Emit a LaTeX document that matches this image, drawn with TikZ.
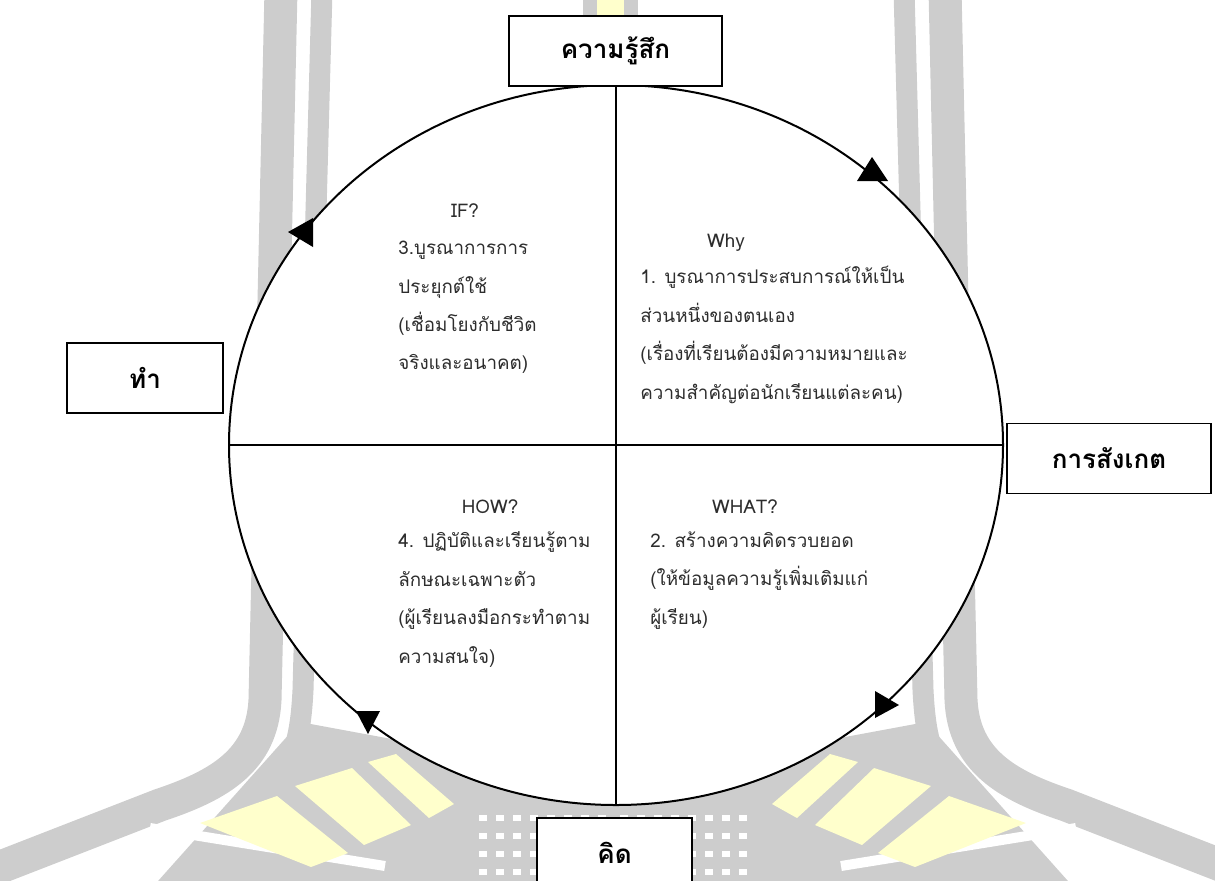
\documentclass[tikz,border=0pt]{standalone}
\usepackage{fontspec}
\setmainfont[Script=Thai]{Loma}
\usetikzlibrary{shapes.geometric, positioning, calc}

\definecolor{wmgray}{RGB}{205, 205, 205}
\definecolor{wmyellow}{RGB}{255, 255, 204}
\definecolor{bodytext}{RGB}{45, 45, 45}

\begin{document}
\begin{tikzpicture}[
        x=0.5pt, y=-0.5pt,
        labelbox/.style={draw, line width=0.9pt, fill=white, minimum height=35pt, inner sep=0pt, font=\fontsize{13}{15}\selectfont\bfseries},
        quadhead/.style={inner sep=0pt, text=bodytext, font=\fontsize{9.4}{12}\selectfont},
        quadtext/.style={inner sep=0pt, align=left, text=bodytext, font=\fontsize{9.4}{19.2}\selectfont},
        cyclehead/.style={fill=black}
    ]
        \useasboundingbox (0,0) rectangle (1215,880);

        % Watermark behind the cycle
        \fill[wmgray] (583,-5) rectangle (638,25);
        \fill[wmyellow] (597,-5) rectangle (624,25);
        \foreach \m/\d in {1/0pt, -1/613pt} {
            \begin{scope}[xshift=\d, xscale=\m]
                \fill[wmgray] (300,722) -- (613,780) -- (613,890) -- (150,890) -- cycle;
                \draw[wmgray, line width=16.5pt] (281,-10) -- (265,700) .. controls (262,760) and (220,785) .. (160,805) -- (-20,875);
                \draw[wmgray, line width=10.5pt] (322,-10) -- (303,690) .. controls (301,730) and (296,750) .. (285,770);
                \draw[white, line width=5pt] (385,866) -- (150,828);
                \fill[wmyellow] (200,823) -- (277,796) -- (348,853) -- (311,867) -- cycle;
                \fill[wmyellow] (295,786) -- (352,768) -- (411,825) -- (364,845) -- cycle;
                \fill[wmyellow] (368,762) -- (396,754) -- (454,804) -- (429,818) -- cycle;
                \foreach \i in {0,...,7} {
                    \foreach \j in {0,...,3} {
                        \fill[white] (606-\i*17,815+\j*18) rectangle ++(-8,6);
                    }
                }
            \end{scope}
        }

        % Cycle with its four quarters
        \node[ellipse, draw, line width=1pt, fill=white, minimum width=387pt, minimum height=360pt, inner sep=0pt] (cyc) at (616,445) {};
        \draw[line width=0.8pt] (cyc.north) -- (cyc.south);
        \draw[line width=0.8pt] (cyc.west) -- (cyc.east);

        % Arrow heads along the cycle
        \fill[cyclehead] (872,157) -- (857,181) -- (888,181) -- cycle;
        \fill[cyclehead] (899,705) -- (875,691) -- (875,718) -- cycle;
        \fill[cyclehead] (368,734) -- (356,711) -- (380,711) -- cycle;
        \fill[cyclehead] (288,232) -- (313,218) -- (313,247) -- cycle;

        % Labels around the cycle
        \node[labelbox, minimum width=106.5pt] (feel) at (615.5,51) {ความรู้สึก};
        \node[labelbox, minimum width=102pt] (observe) at (1109,458.5) {การสังเกต};
        \node[labelbox, minimum width=77.5pt] (think) at (614.5,853) {คิด};
        \node[labelbox, minimum width=78pt] (act) at (145,378) {ทำ};

        % Quarter texts
        \node[quadhead] (whyhead) at (726,243) {Why};
        \node[quadtext, anchor=west] (whytext) at (640,335) {1. บูรณาการประสบการณ์ให้เป็น\\ส่วนหนึ่งของตนเอง\\(เรื่องที่เรียนต้องมีความหมายและ\\ความสำคัญต่อนักเรียนแต่ละคน)};
        \node[quadhead] (whathead) at (745,507) {WHAT?};
        \node[quadtext, anchor=west] (whattext) at (650,580.5) {2. สร้างความคิดรวบยอด\\(ให้ข้อมูลความรู้เพิ่มเติมแก่\\ผู้เรียน)};
        \node[quadhead] (ifhead) at (465,211) {IF?};
        \node[quadtext, anchor=west] (iftext) at (398,307.5) {3.บูรณาการการ\\ประยุกต์ใช้\\(เชื่อมโยงกับชีวิต\\จริงและอนาคต)};
        \node[quadhead] (howhead) at (490,507) {HOW?};
        \node[quadtext, anchor=west] (howtext) at (398,599.5) {4. ปฏิบัติและเรียนรู้ตาม\\ลักษณะเฉพาะตัว\\(ผู้เรียนลงมือกระทำตาม\\ความสนใจ)};
    \end{tikzpicture}
\end{document}
